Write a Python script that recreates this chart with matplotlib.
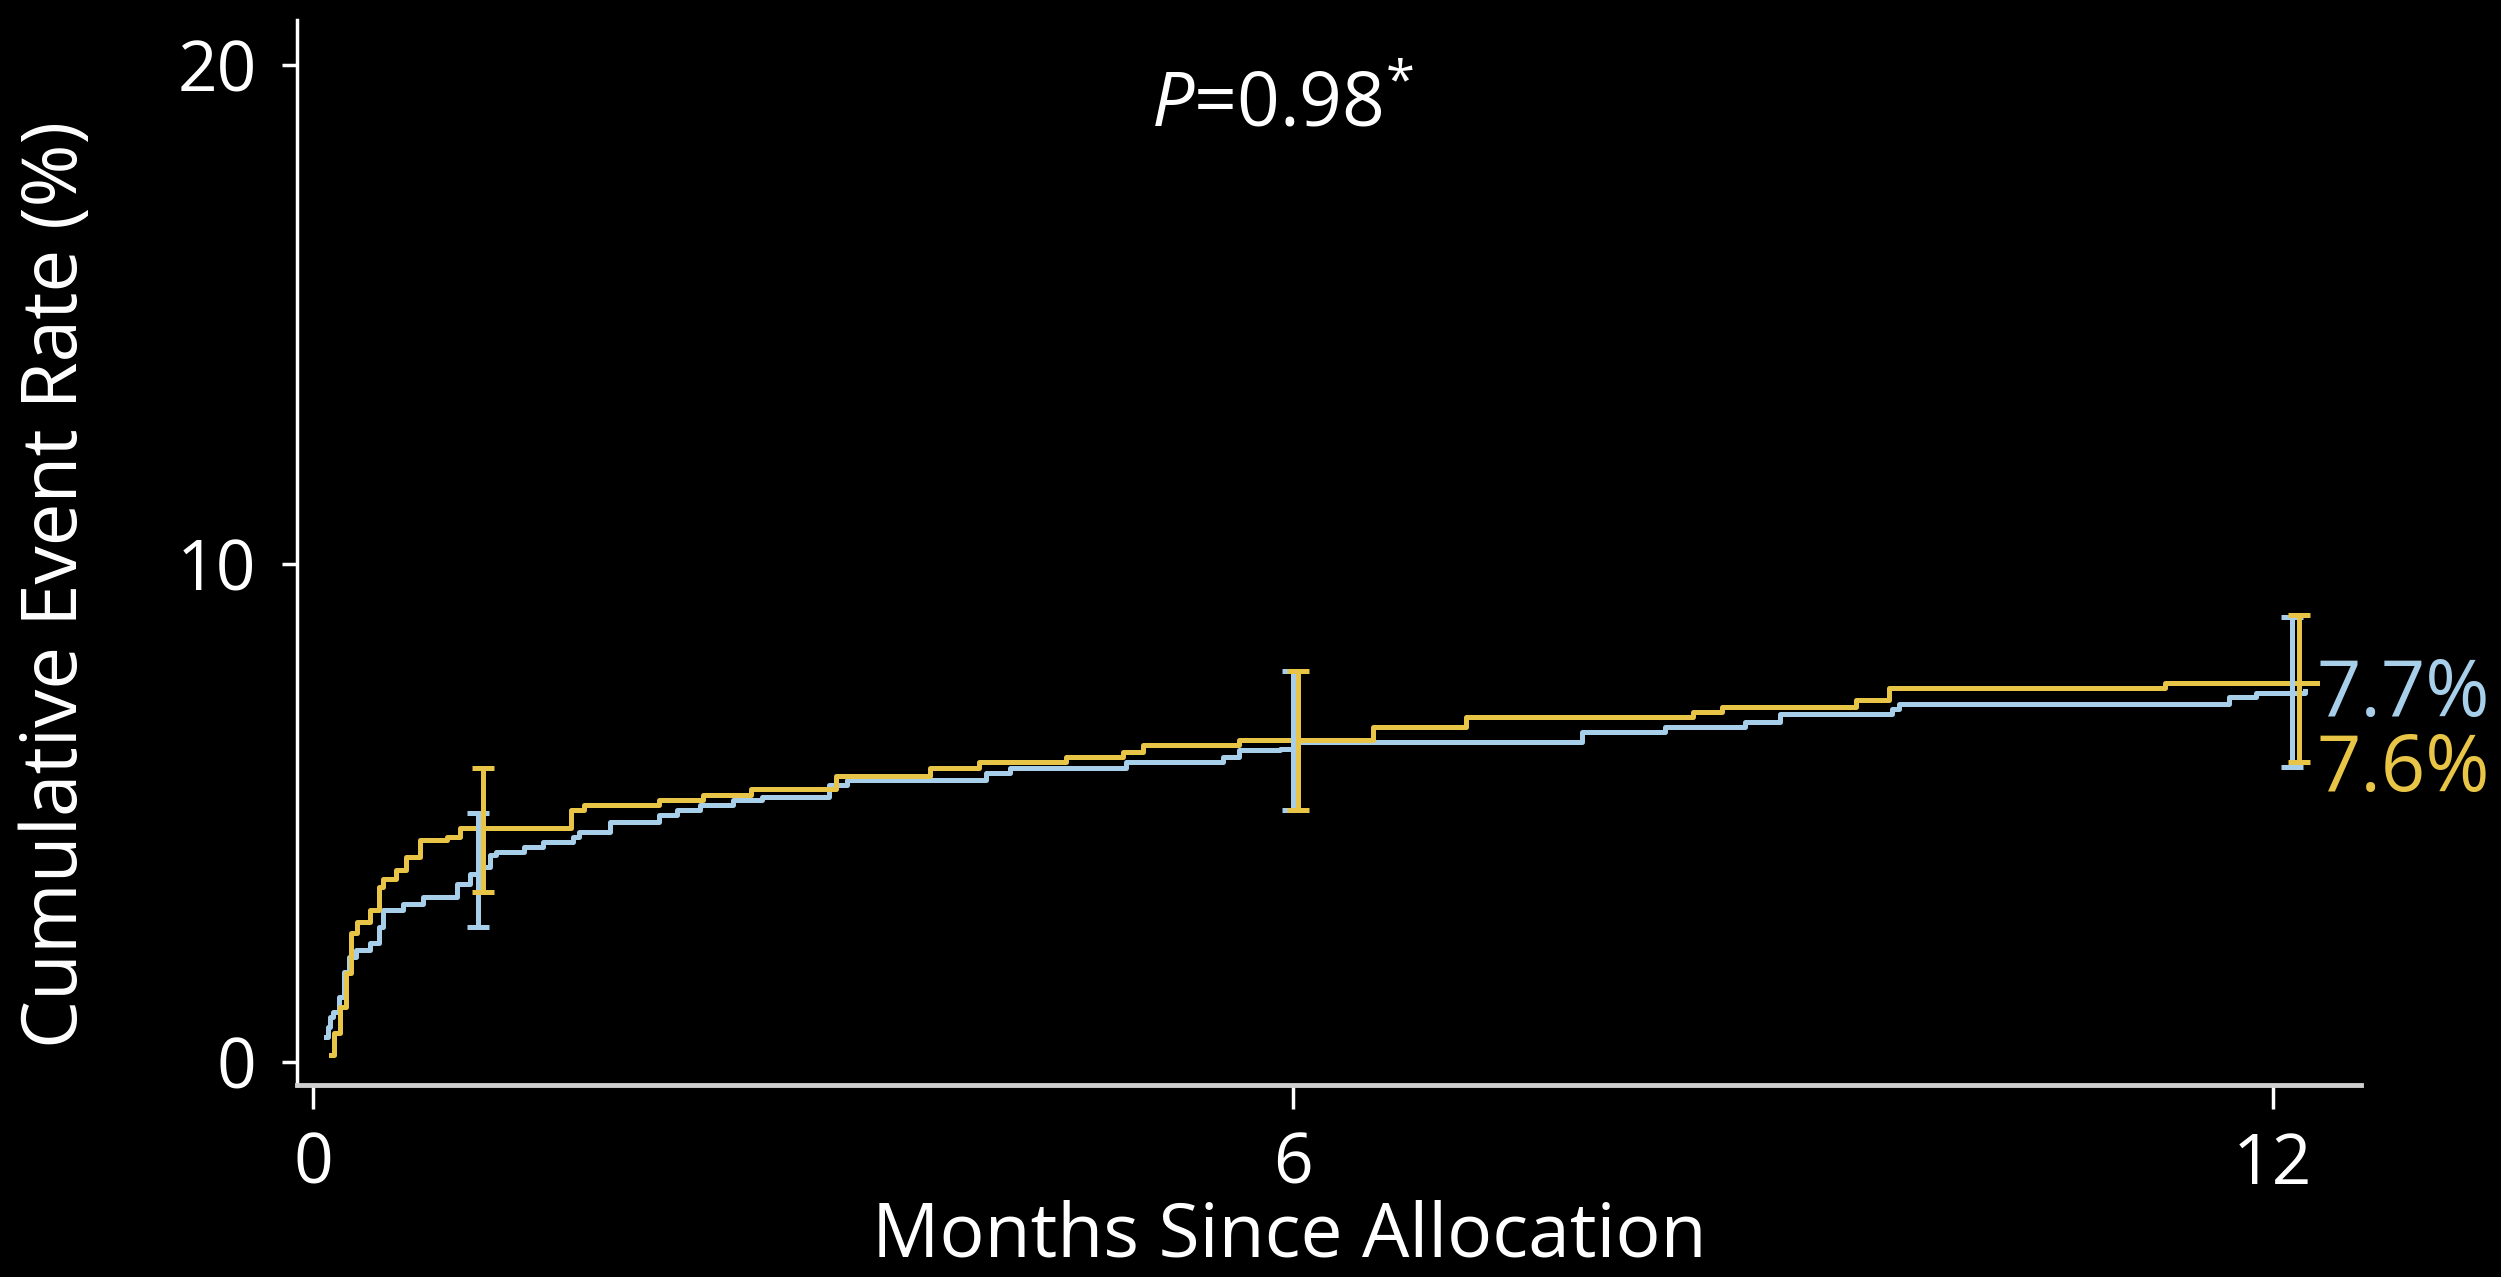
import matplotlib
matplotlib.use("Agg")
import matplotlib.pyplot as plt
import numpy as np

plt.rcParams['font.family'] = ['Open Sans', 'DejaVu Sans']
plt.rcParams['mathtext.fontset'] = 'custom'
plt.rcParams['mathtext.rm'] = 'Open Sans'
plt.rcParams['mathtext.it'] = 'Open Sans:italic'

# ---- data ----
yellow_t = [0.11, 0.13, 0.165, 0.20, 0.23, 0.27, 0.35, 0.40, 0.43, 0.51, 0.57, 0.655,
            0.82, 0.90, 1.58, 1.66, 2.12, 2.39, 2.68, 3.20, 3.78, 4.08, 4.61, 4.96,
            5.08, 5.67, 6.49, 7.06, 8.45, 8.63, 9.45, 9.65, 11.34, 12.27]
yellow_v = [0.14, 0.58, 1.11, 1.78, 2.58, 2.81, 3.05, 3.52, 3.68, 3.85, 4.12, 4.45,
            4.52, 4.69, 5.06, 5.16, 5.26, 5.36, 5.47, 5.74, 5.89, 6.02, 6.12, 6.22,
            6.36, 6.47, 6.73, 6.93, 7.03, 7.13, 7.26, 7.50, 7.60, 7.60]

blue_t = [0.08, 0.09, 0.10, 0.12, 0.16, 0.19, 0.22, 0.26, 0.35, 0.40, 0.43, 0.55,
          0.67, 0.88, 0.96, 1.02, 1.08, 1.12, 1.29, 1.41, 1.59, 1.63, 1.82, 2.12,
          2.23, 2.37, 2.57, 2.75, 3.16, 3.27, 4.12, 4.27, 4.98, 5.57, 5.67, 5.92,
          6.02, 7.77, 8.28, 8.77, 8.98, 9.67, 9.71, 11.73, 11.90, 12.20]
blue_v = [0.50, 0.71, 0.90, 1.00, 1.30, 1.80, 2.10, 2.25, 2.38, 2.71, 3.05, 3.18,
          3.32, 3.58, 3.78, 3.91, 4.15, 4.22, 4.32, 4.42, 4.52, 4.62, 4.82, 4.95,
          5.06, 5.16, 5.26, 5.31, 5.55, 5.66, 5.79, 5.89, 6.02, 6.12, 6.26, 6.29,
          6.43, 6.63, 6.73, 6.83, 6.99, 7.09, 7.19, 7.33, 7.40, 7.45]

yellow_err_t = [1.04, 6.03, 12.16]
yellow_err_mid = [4.69, 6.46, 7.55]
yellow_err_lo = [3.42, 5.06, 6.02]
yellow_err_hi = [5.89, 7.85, 8.97]

blue_err_t = [1.01, 6.00, 12.12]
blue_err_mid = [3.91, 6.43, 7.45]
blue_err_lo = [2.71, 5.06, 5.92]
blue_err_hi = [4.99, 7.85, 8.93]

x_ticks = [0, 6, 12]
y_ticks = [0, 10, 20]
blue_label = "7.7%"
yellow_label = "7.6%"
p_text = r"$\mathit{P}$=0.98$^{*}$"

YELLOW = "#E8C547"
BLUE = "#A8CFEA"

fig = plt.figure(figsize=(25.01, 12.77), dpi=100, facecolor="black")
ax = fig.add_axes([0.1187, 0.1504, 0.944 - 0.1187, 0.984 - 0.1504])
ax.set_facecolor("black")

ax.step(blue_t, blue_v, where="post", color=BLUE, lw=3.6, zorder=3)
ax.step(yellow_t, yellow_v, where="post", color=YELLOW, lw=3.6, zorder=4)

bm = np.array(blue_err_mid)
ax.errorbar(blue_err_t, bm, yerr=[bm - np.array(blue_err_lo), np.array(blue_err_hi) - bm],
            fmt="none", ecolor=BLUE, elinewidth=3.6, capsize=8, capthick=3.6, zorder=5)
ym = np.array(yellow_err_mid)
ax.errorbar(yellow_err_t, ym, yerr=[ym - np.array(yellow_err_lo), np.array(yellow_err_hi) - ym],
            fmt="none", ecolor=YELLOW, elinewidth=3.6, capsize=8, capthick=3.6, zorder=6)

ax.set_xlim(-0.1, 12.54)
ax.set_ylim(-0.46, 20.9)
ax.set_xticks(x_ticks)
ax.set_yticks(y_ticks)
ax.set_xticklabels([str(v) for v in x_ticks])
ax.set_yticklabels([str(v) for v in y_ticks])

for s in ["top", "right"]:
    ax.spines[s].set_visible(False)
ax.spines["left"].set_color("white")
ax.spines["left"].set_linewidth(2.5)
ax.spines["bottom"].set_color("#cfcfcf")
ax.spines["bottom"].set_linewidth(3.5)

ax.tick_params(axis="y", colors="white", labelsize=50, length=11, width=2.5, pad=18)
ax.tick_params(axis="x", colors="white", labelsize=50, length=17, width=2.5, pad=16)

ax.set_xlabel("Months Since Allocation", color="white", fontsize=54)
ax.xaxis.set_label_coords(0.481, -0.108)
ax.set_ylabel("Cumulative Event Rate (%)", color="white", fontsize=55)
ax.yaxis.set_label_coords(-0.098, 0.47)

ax.text(5.13, 19.16, p_text, color="white", fontsize=54, ha="left", va="center")

ax.text(12.27, 7.35, blue_label, color=BLUE, fontsize=56, ha="left", va="center",
        clip_on=False)
ax.text(12.27, 5.85, yellow_label, color=YELLOW, fontsize=56, ha="left", va="center",
        clip_on=False)

fig.savefig("out.png", dpi=100, facecolor="black")
